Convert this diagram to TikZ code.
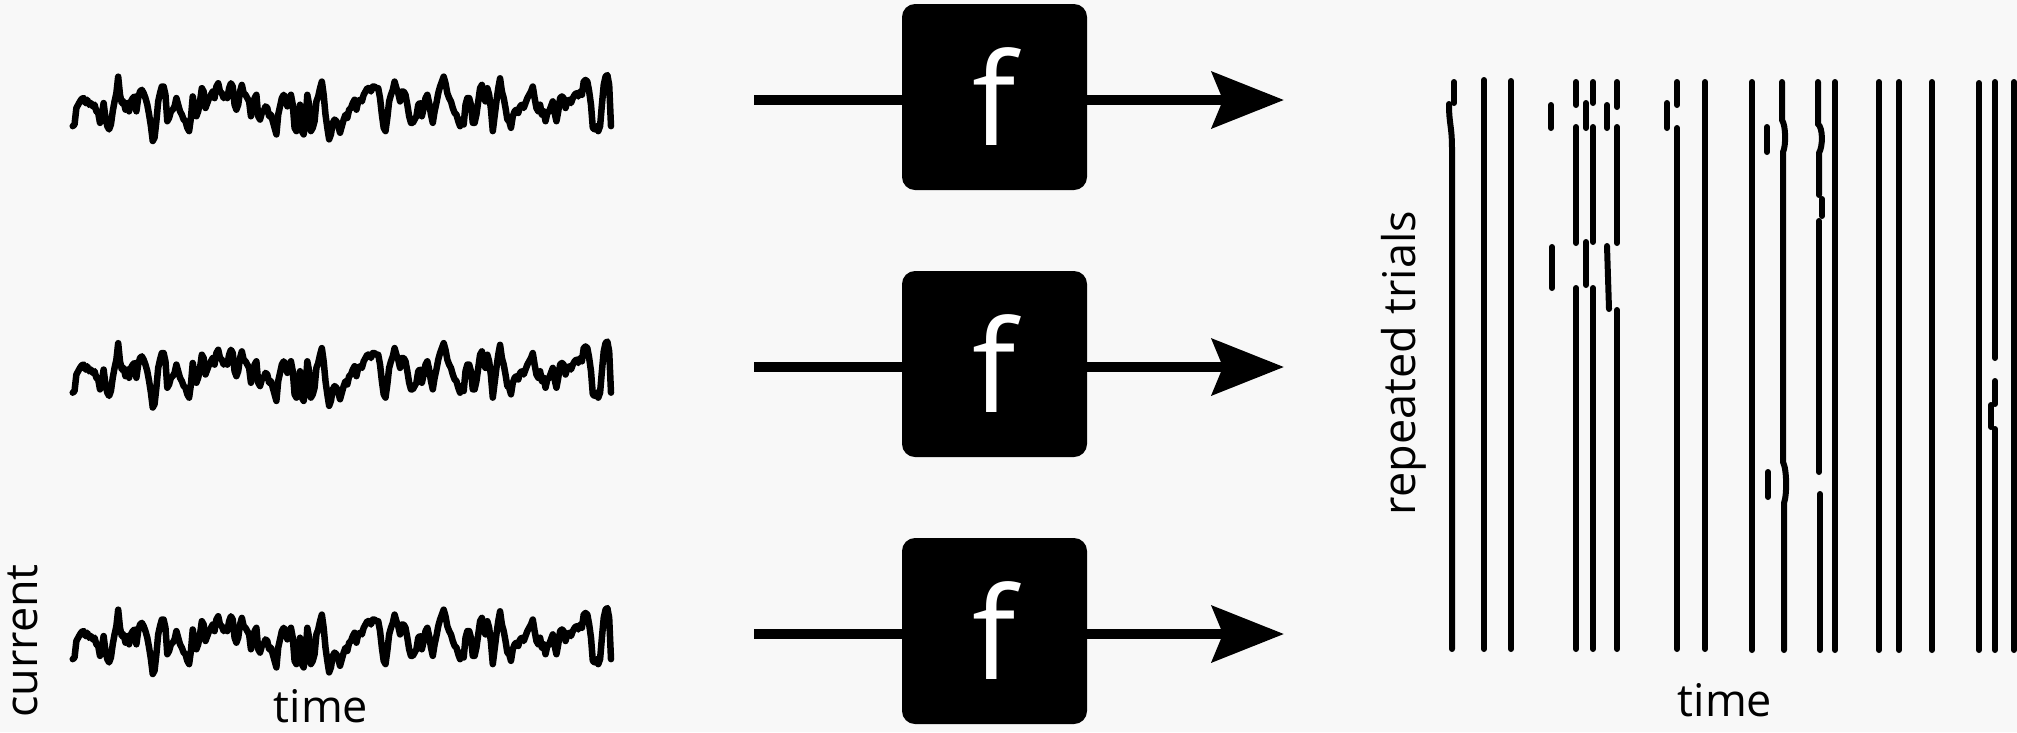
\documentclass[tikz,border=0pt]{standalone}
\usepackage{fontspec}
\setmainfont{Open Sans}
\usetikzlibrary{arrows.meta}
\definecolor{paper}{HTML}{F8F8F8}

\tikzset{
  x=1pt, y=-1pt,
  fbox/.style={fill=black, text=white, rounded corners=13pt, minimum width=185pt,
    minimum height=186pt, inner sep=0pt, font=\fontsize{128}{128}\selectfont},
  wire/.style={line width=10pt},
  arrowwire/.style={line width=10pt, -{Stealth[length=72pt, width=56pt, inset=11pt]}},
  tracepen/.style={line width=6.5pt, line join=round, line cap=round},
  spike/.style={line width=6pt, line cap=round},
  label/.style={font=\fontsize{45}{45}\selectfont, inner sep=0pt},
  noise/.pic={
    \draw[tracepen, x=0.3637pt, y=-0.33pt] (35,195)
      \foreach \v [count=\i] in {190,140,130,120,112,110,125,115,130,125,135,130,150,155,185,160,125,170,195,205,
        190,150,120,95,45,100,125,120,145,125,150,120,110,105,150,110,90,85,95,110,
        130,160,195,240,230,180,120,95,75,75,100,180,170,150,145,135,110,130,150,160,
        175,180,200,210,170,105,140,165,150,120,80,90,140,125,110,100,90,110,75,65,
        90,95,110,100,110,80,65,75,130,145,130,90,70,95,100,110,120,165,140,110,
        100,165,175,155,150,135,140,165,160,180,200,220,160,135,110,100,110,135,110,100,
        130,200,210,160,130,210,220,180,100,130,210,200,180,120,105,80,60,100,160,200,
        235,220,185,175,180,195,215,195,175,160,170,145,140,125,115,145,120,115,120,100,
        90,80,80,90,75,75,80,80,110,160,200,210,170,120,100,85,60,80,95,120,
        90,90,100,130,165,185,185,175,165,130,125,165,140,110,100,125,160,185,150,125,
        95,75,60,45,65,95,110,120,140,155,160,180,195,175,190,130,110,110,130,185,
        185,160,120,80,70,110,120,80,100,145,210,165,120,80,50,90,110,140,175,180,
        200,165,150,145,155,135,130,140,125,110,100,90,75,110,140,150,130,160,150,180,
        155,150,135,120,155,180,150,110,105,110,140,120,115,125,110,100,95,105,90,100,
        60,55,60,90,130,200,205,195,210,195,130,70,45,40,70,195}
      { -- ({35+5*\i},\v) };
  }
}

\begin{document}
\begin{tikzpicture}
  % canvas
  \fill[paper] (0,0) rectangle (2017,732);
  \useasboundingbox (0,0) rectangle (2017,732);

  % input currents
  \pic at (60,61.8) {noise};
  \pic at (60,328.3) {noise};
  \pic at (60,594.8) {noise};

  % transfer boxes with their input and output wires
  \foreach \n/\yc in {1/97, 2/364, 3/631} {
    \coordinate (in\n) at (754,\yc+3);
    \coordinate (out\n) at (1284,\yc+3);
    \node[fbox] (f\n) at (994.5,\yc) {f};
    \draw[wire] (in\n) -- (in\n -| f\n.west);
    \draw[arrowwire] (in\n -| f\n.east) -- (out\n);
  }

  % axis labels
  \node[label, rotate=90, anchor=base] (cur) at (37,641) {current};
  \node[label, anchor=base] (tin) at (321,722) {time};
  \node[label, rotate=90, anchor=base] (rep) at (1415,363) {repeated trials};
  \node[label, anchor=base] (tout) at (1725,716) {time};

  % spike raster
  \draw[spike] (1454,82) -- (1454,103);
  \draw[spike] (1449,104) .. controls (1449,125) and (1452,125) .. (1452,150) -- (1452,649);
  \draw[spike] (1484,80) -- (1484,649);
  \draw[spike] (1511,81) -- (1511,649);
  \draw[spike] (1551,105) -- (1551,128);
  \draw[spike] (1552,247) -- (1552,288);
  \draw[spike] (1576,82) -- (1576,105);
  \draw[spike] (1576,127) -- (1576,243);
  \draw[spike] (1576,288) -- (1576,649);
  \draw[spike] (1586,103) -- (1586,128);
  \draw[spike] (1586,242) -- (1586,285);
  \draw[spike] (1593,82) -- (1593,103);
  \draw[spike] (1593,127) -- (1593,242);
  \draw[spike] (1593,288) -- (1593,649);
  \draw[spike] (1607,105) -- (1607,128);
  \draw[spike] (1607,246) -- (1609,309);
  \draw[spike] (1617,82) -- (1617,107);
  \draw[spike] (1617,127) -- (1617,243);
  \draw[spike] (1617,310) -- (1617,649);
  \draw[spike] (1667,103) -- (1667,128);
  \draw[spike] (1677,82) -- (1677,105);
  \draw[spike] (1677,128) -- (1677,649);
  \draw[spike] (1705,82) -- (1705,649);
  \draw[spike] (1752,82) -- (1752,650);
  \draw[spike] (1767,127) -- (1767,152);
  \draw[spike] (1768,472) -- (1768,497);
  \draw[spike] (1782,82) -- (1782,120) .. controls (1786,126) and (1786,146) .. (1783,152)
    -- (1783,462) .. controls (1787,470) and (1787,495) .. (1784,503) -- (1784,650);
  \draw[spike] (1818,82) -- (1818,124) .. controls (1823,128) and (1823,146) .. (1819,153) -- (1819,195);
  \draw[spike] (1822,199) -- (1822,216);
  \draw[spike] (1819,221) -- (1819,472);
  \draw[spike] (1820,494) -- (1820,650);
  \draw[spike] (1835,82) -- (1835,650);
  \draw[spike] (1879,82) -- (1879,650);
  \draw[spike] (1899,82) -- (1899,650);
  \draw[spike] (1932,82) -- (1932,650);
  \draw[spike] (1979,83) -- (1979,650);
  \draw[spike] (1995,82) -- (1995,358);
  \draw[spike] (1995,381) -- (1995,404);
  \draw[spike] (1991,405) -- (1991,427);
  \draw[spike] (1995,429) -- (1995,650);
  \draw[spike] (2014,82) -- (2014,650);
\end{tikzpicture}
\end{document}
